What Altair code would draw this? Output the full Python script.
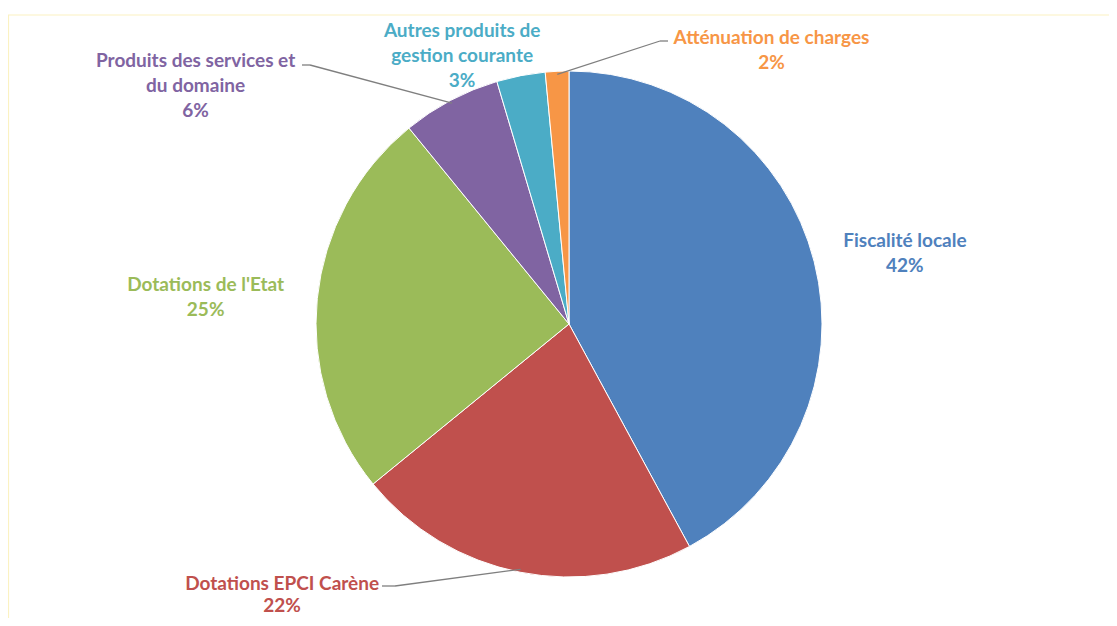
import altair as alt
import pandas as pd

# ---- data ----
categories = [
    "Fiscalité locale",
    "Dotations EPCI Carène",
    "Dotations de l'Etat",
    "Produits des services et du domaine",
    "Autres produits de gestion courante",
    "Atténuation de charges",
]
shares = [42.1, 22.0, 25.0, 6.3, 3.1, 1.5]
pct_labels = ["42%", "22%", "25%", "6%", "3%", "2%"]
label_names = [
    "Fiscalité locale",
    "Dotations EPCI Carène",
    "Dotations de l'Etat",
    "Produits des services et\ndu domaine",
    "Autres produits de\ngestion courante",
    "Atténuation de charges",
]
colors = ["#4F81BD", "#C0504D", "#9BBB59", "#8064A2", "#4BACC6", "#F79646"]

df = pd.DataFrame({
    "category": categories,
    "share": shares,
    "order": list(range(len(categories))),
    "label": [n + "\n" + p for n, p in zip(label_names, pct_labels)],
})
total = float(sum(shares))

# ---- layout (view pixels) ----
W, H = 1101, 610
CX, CY = 561, 316
R = 253
R_LABEL = 330
R_LEADER = 250
FONT = "Lato"
FONT_SIZE = 19
LINE_H = 25

# nudges of the label block centre from its natural polar position
label_nudges = {0: (16, 11), 1: (-223, -53), 2: (-35, 7),
                3: (-219, 54), 4: (-44, 56), 5: (218, 56)}
line_heights = {1: 22}
# leader: (stub start, stub end) near the label; diagonal goes from stub end to the slice
leaders = {3: ((294, 57), (302, 57)), 5: ((660, 33), (652, 33)), 1: ((374, 578), (387, 578))}

color_scale = alt.Scale(domain=categories, range=colors)
theta_scale = alt.Scale(domain=[0, total])

base = (
    alt.Chart(df)
    .transform_window(cum="sum(share)", sort=[alt.SortField("order")], frame=[None, 0])
    .transform_calculate(mid="datum.cum - datum.share / 2")
    .transform_calculate(ang=f"2 * PI * datum.mid / {total}")
    .transform_calculate(ex=f"{CX} + {R_LEADER} * sin(datum.ang)")
    .transform_calculate(ey=f"{CY} - {R_LEADER} * cos(datum.ang)")
)

frame_color = "#fbf2c2"
frame_top = alt.Chart(df).transform_filter(alt.datum.order == 0).mark_rule(
    color=frame_color, strokeWidth=1.2
).encode(x=alt.value(0), x2=alt.value(W), y=alt.value(7))
frame_left = alt.Chart(df).transform_filter(alt.datum.order == 0).mark_rule(
    color=frame_color, strokeWidth=1.2
).encode(x=alt.value(0.5), y=alt.value(7), y2=alt.value(H))

arcs = alt.Chart(df).mark_arc(outerRadius=R, stroke="white", strokeWidth=1).encode(
    theta=alt.Theta("share:Q", stack=True, scale=theta_scale),
    color=alt.Color("category:N", scale=color_scale, legend=None),
    order=alt.Order("order:Q", sort="ascending"),
    x=alt.value(CX),
    y=alt.value(CY),
)

layers = [frame_top, frame_left, arcs]

for i, ((sx1, sy1), (sx2, sy2)) in leaders.items():
    diag = base.transform_filter(alt.datum.order == i).mark_rule(
        color="#7f7f7f", strokeWidth=1.3
    ).encode(
        x=alt.X("ex:Q", scale=None, axis=None),
        y=alt.Y("ey:Q", scale=None, axis=None),
        x2=alt.value(sx2),
        y2=alt.value(sy2),
    )
    stub = alt.Chart(df).transform_filter(alt.datum.order == i).mark_rule(
        color="#7f7f7f", strokeWidth=1.3
    ).encode(x=alt.value(sx1), x2=alt.value(sx2), y=alt.value(sy1))
    layers += [diag, stub]

for i, (dx, dy) in label_nudges.items():
    n_lines = df["label"][i].count("\n") + 1
    lh = line_heights.get(i, LINE_H)
    txt = base.transform_filter(alt.datum.order == i).mark_text(
        font=FONT, fontWeight="bold", fontSize=FONT_SIZE, lineBreak="\n", lineHeight=lh,
        align="center", baseline="middle", dx=dx, dy=dy - (n_lines - 1) * lh / 2,
    ).encode(
        theta=alt.Theta("mid:Q", scale=theta_scale),
        radius=alt.value(R_LABEL),
        text="label:N",
        color=alt.Color("category:N", scale=color_scale, legend=None),
        x=alt.value(CX),
        y=alt.value(CY),
    )
    layers.append(txt)

chart = (
    alt.layer(*layers)
    .properties(width=W, height=H, padding=0, autosize=alt.AutoSizeParams(type="none"))
    .configure_view(stroke=None)
)

chart.save("out.html", embed_options={"renderer": "svg", "actions": False})
